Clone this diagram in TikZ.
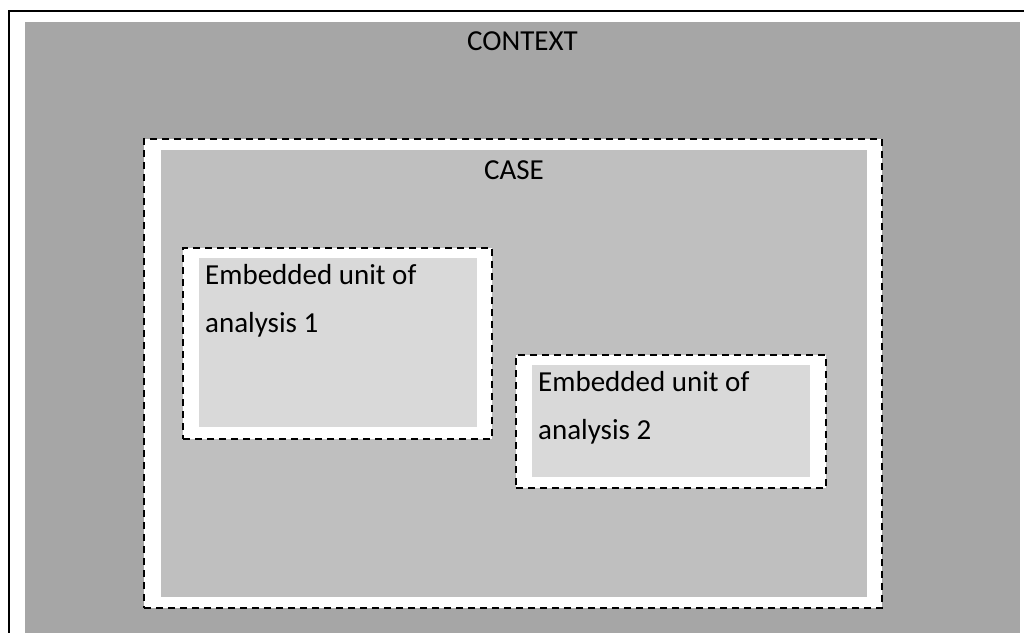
\documentclass[tikz,border=0pt]{standalone}
\usepackage{fontspec}
\setmainfont{Carlito}
\usetikzlibrary{positioning}
\definecolor{contextcolor}{RGB}{166,166,166}
\definecolor{casecolor}{RGB}{191,191,191}
\definecolor{unitcolor}{RGB}{217,217,217}

\begin{document}
\begin{tikzpicture}[
    x=1pt, y=-1pt,
    area/.style={anchor=north west, inner sep=0pt, outer sep=0pt},
    dashbox/.style={area, draw, fill=white, line width=2pt, dash pattern=on 7pt off 5pt},
    lbl/.style={font=\fontsize{29}{34}\selectfont, inner sep=0pt},
    unitlbl/.style={font=\fontsize{29}{48}\selectfont, align=left, inner sep=0pt}
]
    \useasboundingbox (0,0) rectangle (1024,632);
    \clip (0,0) rectangle (1024,632);
    % outer frame and context
    \draw[line width=2pt] (9,660) -- (9,11) -- (1040,11);
    \node[area, fill=contextcolor, minimum width=995pt, minimum height=630pt] (context) at (25,22) {};
    \node[lbl, below=9pt of context.north] (contextlbl) {CONTEXT};
    % case
    \node[dashbox, minimum width=738pt, minimum height=469pt] (caseframe) at (144,139) {};
    \node[area, fill=casecolor, minimum width=706pt, minimum height=447pt] (case) at (161,150) {};
    \node[lbl, below=10pt of case.north] (caselbl) {CASE};
    % embedded units
    \node[dashbox, minimum width=309pt, minimum height=191pt] (unitaframe) at (183,248) {};
    \node[area, fill=unitcolor, minimum width=278pt, minimum height=169pt] (unita) at (199,258) {};
    \node[unitlbl, below right=6pt and 6pt of unita.north west] (unitalbl) {Embedded unit of\\analysis 1};
    \node[dashbox, minimum width=310pt, minimum height=133pt] (unitbframe) at (516,355) {};
    \node[area, fill=unitcolor, minimum width=278pt, minimum height=112pt] (unitb) at (532,365) {};
    \node[unitlbl, below right=6pt and 6pt of unitb.north west] (unitblbl) {Embedded unit of\\analysis 2};
\end{tikzpicture}
\end{document}
